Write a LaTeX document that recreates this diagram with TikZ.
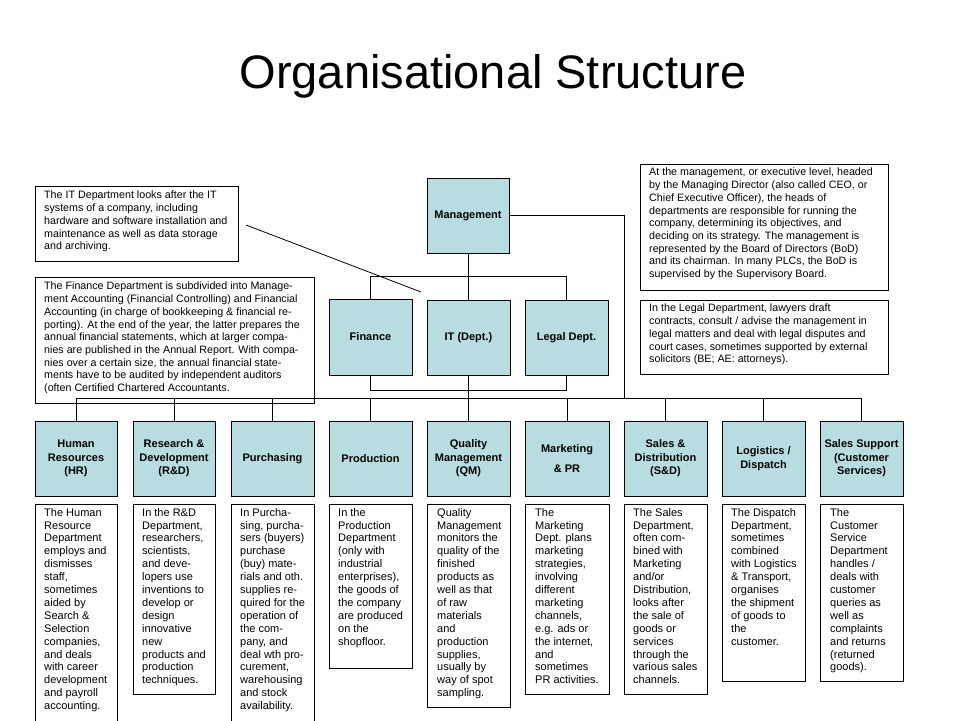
\documentclass[tikz,border=0pt]{standalone}
\usepackage{fontspec}
\setmainfont{Liberation Sans}
\begin{document}
\begin{tikzpicture}[x=1pt,y=-1pt,
  dept/.style={draw,fill=boxc,line width=0.8pt,inner sep=0pt,align=center,font=\fontsize{11}{13.5}\selectfont\bfseries},
  note/.style={anchor=north west,inner sep=0pt,align=left,font=\fontsize{11}{12.9}\selectfont},
  tnote/.style={anchor=north west,inner sep=0pt,align=left,font=\fontsize{10.7}{12.7}\selectfont},
  frame/.style={draw,line width=0.8pt},
  conn/.style={line width=0.8pt}]
\definecolor{boxc}{HTML}{B8DDE1}
\useasboundingbox (0,0) rectangle (960,720);
\node[font=\fontsize{47}{50}\selectfont] (title) at (493,76) {Organisational Structure};
\newcommand{\dbox}[6]{\node[dept,minimum width=#3-#2,minimum height=#5-#4] (#1) at ({(#2+#3)/2},{(#4+#5)/2}) {#6};}
\dbox{mg}{427}{509}{178}{253}{Management}
\dbox{fin}{329}{412}{299}{375}{Finance}
\dbox{it}{427}{510}{300}{375}{IT (Dept.)}
\dbox{leg}{525}{608}{300}{375}{Legal Dept.}
\dbox{hr}{35}{117}{421}{496}{Human\\Resources\\(HR)}
\dbox{rd}{133}{215}{421}{496}{Research \&\\Development\\(R\&D)}
\dbox{pu}{231}{314}{421}{496}{Purchasing}
\dbox{pr}{329}{412}{421}{496}{Production}
\dbox{qm}{427}{510}{421}{496}{Quality\\Management\\(QM)}
\dbox{mk}{525}{609}{421}{496}{Marketing\\[6pt]\& PR}
\dbox{sd}{624}{707}{421}{496}{Sales \&\\Distribution\\(S\&D)}
\dbox{lo}{722}{805}{421}{496}{Logistics /\\Dispatch}
\dbox{ss}{820}{903}{421}{496}{Sales Support\\(Customer\\Services)}
\coordinate (bus) at (473,398);
\draw[conn] (mg.south) -- (mg.south |- it.north);
\draw[conn] (fin.north) -- ++(0,-22) -| (leg.north);
\draw[conn] (fin.south) -- ++(0,15) -| (leg.south);
\draw[conn] (it.south) -- (it.south |- bus);
\draw[conn] (mg.east) -| (624,398);
\draw[conn] (hr.north |- bus) -- (ss.north |- bus);
\foreach \n in {hr,rd,pu,pr,qm,mk,sd,lo,ss}
  \draw[conn] (\n.north |- bus) -- (\n.north);
\foreach \a/\b/\c in {35/117/725,133/215/694,231/314/725,329/412/668,427/510/707,525/609/694,624/707/694,722/805/681,820/903/681}
  \draw[frame] (\a,504) rectangle (\b,\c);
\node[note] (dhr) at (44,508) {The Human\\Resource\\Department\\employs and\\dismisses\\staff,\\sometimes\\aided by\\Search \&\\Selection\\companies,\\and deals\\with career\\development\\and payroll\\accounting.};
\node[note] (drd) at (142,508) {In the R\&D\\Department,\\researchers,\\scientists,\\and deve-\\lopers use\\inventions to\\develop or\\design\\innovative\\new\\products and\\production\\techniques.};
\node[note] (dpu) at (240,508) {In Purcha-\\sing, purcha-\\sers (buyers)\\purchase\\(buy) mate-\\rials and oth.\\supplies re-\\quired for the\\operation of\\the com-\\pany, and\\deal wth pro-\\curement,\\warehousing\\and stock\\availability.};
\node[note] (dpr) at (338,508) {In the\\Production\\Department\\(only with\\industrial\\enterprises),\\the goods of\\the company\\are produced\\on the\\shopfloor.};
\node[note] (dqm) at (437,508) {Quality\\Management\\monitors the\\quality of the\\finished\\products as\\well as that\\of raw\\materials\\and\\production\\supplies,\\usually by\\way of spot\\sampling.};
\node[note] (dmk) at (535,508) {The\\Marketing\\Dept. plans\\marketing\\strategies,\\involving\\different\\marketing\\channels,\\e.g. ads or\\the internet,\\and\\sometimes\\PR activities.};
\node[note] (dsd) at (633,508) {The Sales\\Department,\\often com-\\bined with\\Marketing\\and/or\\Distribution,\\looks after\\the sale of\\goods or\\services\\through the\\various sales\\channels.};
\node[note] (dlo) at (731,508) {The Dispatch\\Department,\\sometimes\\combined\\with Logistics\\\& Transport,\\organises\\the shipment\\of goods to\\the\\customer.};
\node[note] (dss) at (830,508) {The\\Customer\\Service\\Department\\handles /\\deals with\\customer\\queries as\\well as\\complaints\\and returns\\(returned\\goods).};
\draw[frame] (35,186) rectangle (238,261);
\node[tnote] (nit) at (44,191) {The IT Department looks after the IT\\systems of a company, including\\hardware and software installation and\\maintenance as well as data storage\\and archiving.};
\draw[frame] (35,277) rectangle (314,403);
\node[tnote] (nfin) at (44,282) {The Finance Department is subdivided into Manage-\\ment Accounting (Financial Controlling) and Financial\\Accounting (in charge of bookkeeping \& financial re-\\porting). At the end of the year, the latter prepares the\\annual financial statements, which at larger compa-\\nies are published in the Annual Report. With compa-\\nies over a certain size, the annual financial state-\\ments have to be audited by independent auditors\\(often Certified Chartered Accountants.};
\draw[frame] (640,164) rectangle (888,290);
\node[tnote] (nmg) at (649,168) {At the management, or executive level, headed\\by the Managing Director (also called CEO, or\\Chief Executive Officer), the heads of\\departments are responsible for running the\\company, determining its objectives, and\\deciding on its strategy. The management is\\represented by the Board of Directors (BoD)\\and its chairman. In many PLCs, the BoD is\\supervised by the Supervisory Board.};
\draw[frame] (640,300) rectangle (888,374);
\node[tnote] (nleg) at (649,304) {In the Legal Department, lawyers draft\\contracts, consult / advise the management in\\legal matters and deal with legal disputes and\\court cases, sometimes supported by external\\solicitors (BE; AE: attorneys).};
\coordinate (itend) at (421,292);
\coordinate (itstart) at (246,225);
\draw[conn] (itstart) -- (itend);
\end{tikzpicture}
\end{document}
